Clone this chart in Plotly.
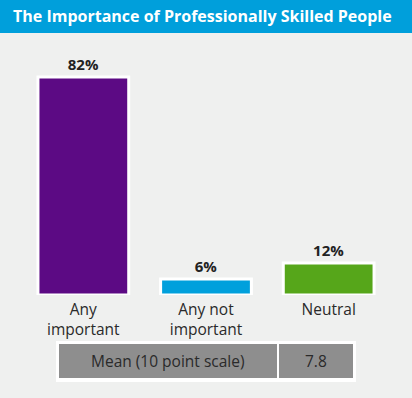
import plotly.graph_objects as go

categories = ["Any<br>important", "Any not<br>important", "Neutral"]
values = [82, 6, 12]
value_labels = ["82%", "6%", "12%"]
colors = ["#5C0A84", "#00A0DC", "#56A61A"]
title_text = "The Importance of Professionally Skilled People"
mean_label = "Mean (10 point scale)"
mean_value = "7.8"

W, H = 412, 398
ML, MR, MT, MB = 22, 22, 29, 103
PW = W - ML - MR
PH = H - MT - MB


def px(x):
    return (x - ML) / PW


def py(y):
    return (H - MB - y) / PH


fig = go.Figure()
fig.add_trace(go.Bar(
    x=categories, y=values,
    marker=dict(color=colors, line=dict(color="white", width=3)),
    width=0.74,
    text=value_labels, textposition="outside",
    textfont=dict(family="Open Sans", size=15, color="#222222", weight="bold"),
    cliponaxis=False,
    hoverinfo="skip",
))

shapes = [
    dict(type="rect", xref="paper", yref="paper", x0=px(0), x1=px(W), y0=py(33), y1=py(0),
         fillcolor="#009FDB", line=dict(width=0), layer="below"),
    dict(type="rect", xref="paper", yref="paper", x0=px(56), x1=px(356), y0=py(382), y1=py(341),
         fillcolor="white", line=dict(width=0)),
    dict(type="rect", xref="paper", yref="paper", x0=px(59), x1=px(277), y0=py(378), y1=py(344),
         fillcolor="#8E8E8E", line=dict(width=0)),
    dict(type="rect", xref="paper", yref="paper", x0=px(279), x1=px(353), y0=py(378), y1=py(344),
         fillcolor="#8E8E8E", line=dict(width=0)),
]

annotations = [
    dict(text=title_text, xref="paper", yref="paper", x=px(11), y=py(16.5),
         xanchor="left", yanchor="middle", showarrow=False,
         font=dict(family="Open Sans", size=16, color="white", weight="bold")),
    dict(text=mean_label, xref="paper", yref="paper", x=px(168), y=py(361),
         xanchor="center", yanchor="middle", showarrow=False,
         font=dict(family="Open Sans", size=15.5, color="#2a2a2a")),
    dict(text=mean_value, xref="paper", yref="paper", x=px(316), y=py(361),
         xanchor="center", yanchor="middle", showarrow=False,
         font=dict(family="Open Sans", size=15.5, color="#2a2a2a")),
]

fig.update_layout(
    width=W, height=H,
    margin=dict(l=ML, r=MR, t=MT, b=MB),
    paper_bgcolor="#EFF0EF", plot_bgcolor="#EFF0EF",
    showlegend=False,
    shapes=shapes, annotations=annotations,
    bargap=0.26,
    xaxis=dict(showgrid=False, zeroline=False, showline=False, ticks="",
               tickfont=dict(family="Open Sans", size=15.5, color="#2a2a2a"),
               ticklabelstandoff=3,
               range=[-0.5, 2.5], fixedrange=True),
    yaxis=dict(visible=False, range=[0, 100], fixedrange=True),
)

fig.write_html(
    "out.html",
    config={"displayModeBar": False},
    post_script="document.body.style.margin='0';document.body.style.padding='0';document.body.style.background='#EFF0EF';document.body.style.overflow='hidden';",
)
